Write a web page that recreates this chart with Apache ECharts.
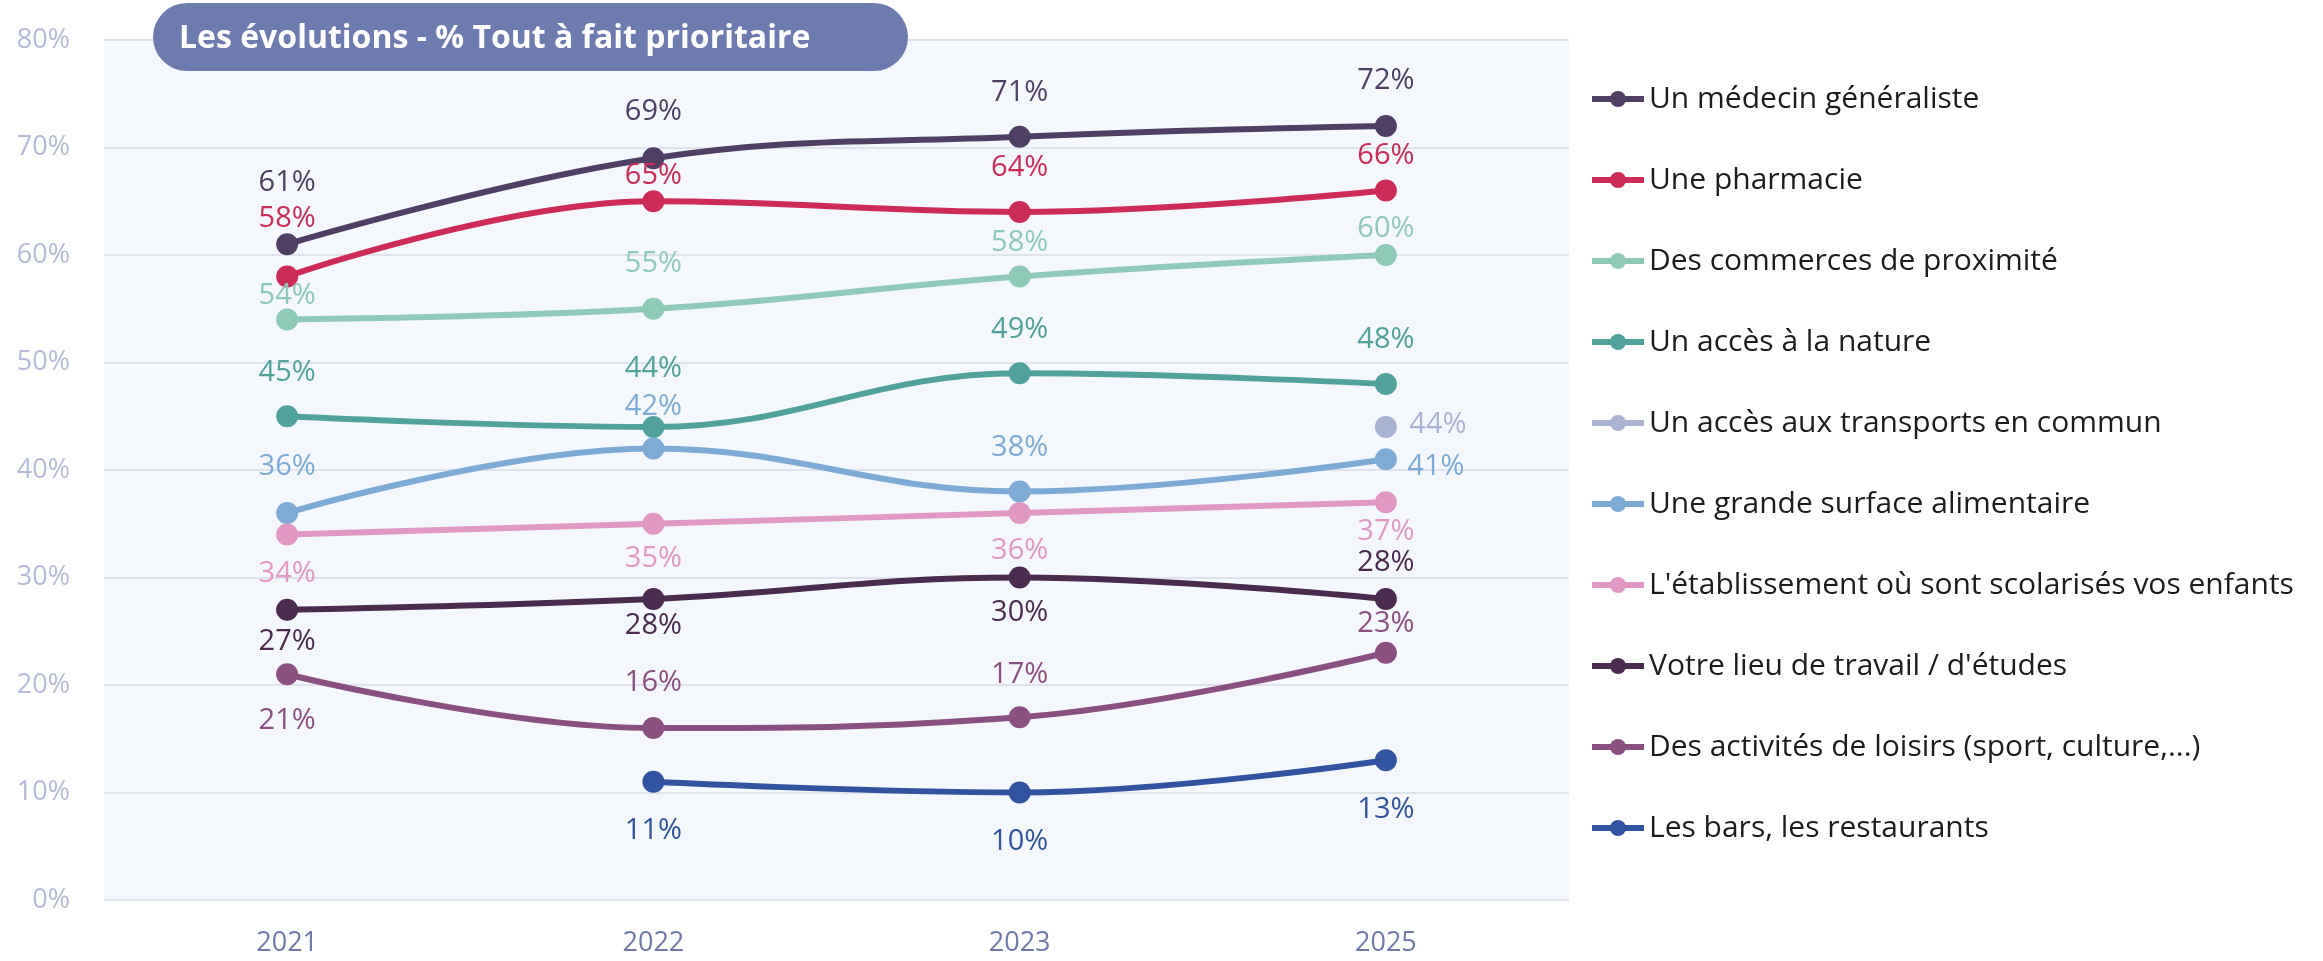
<!DOCTYPE html>
<html>
<head>
<meta charset="utf-8">
<script src="https://cdn.jsdelivr.net/npm/echarts@6/dist/echarts.min.js"></script>
<style>
  html, body { margin: 0; padding: 0; background: #fff; }
  #chart { width: 2323px; height: 961px; }
</style>
</head>
<body>
<div id="chart"></div>
<script>
// années
const years = ["2021", "2022", "2023", "2025"];
const yTicks = [0, 10, 20, 30, 40, 50, 60, 70, 80];

// séries (% tout à fait prioritaire)
const names = [
  "Un médecin généraliste",
  "Une pharmacie",
  "Des commerces de proximité",
  "Un accès à la nature",
  "Un accès aux transports en commun",
  "Une grande surface alimentaire",
  "L'établissement où sont scolarisés vos enfants",
  "Votre lieu de travail / d'études",
  "Des activités de loisirs (sport, culture,...)",
  "Les bars, les restaurants"
];
const medecin = [61, 69, 71, 72];
const pharmacie = [58, 65, 64, 66];
const commerces = [54, 55, 58, 60];
const nature = [45, 44, 49, 48];
const transports = [null, null, null, 44];
const grandeSurface = [36, 42, 38, 41];
const etablissement = [34, 35, 36, 37];
const travail = [27, 28, 30, 28];
const loisirs = [21, 16, 17, 23];
const bars = [null, 11, 10, 13];

const values = [medecin, pharmacie, commerces, nature, transports,
  grandeSurface, etablissement, travail, loisirs, bars];

const colors = ["#4e3f63", "#cc2c57", "#8fcab8", "#52a29c", "#aab3d2",
  "#7eabd6", "#e198c3", "#4a2c4f", "#8a5080", "#32539f"];

// placement des étiquettes (décalage en px par rapport au point)
const labelDy = [
  [-62, -47, -44, -45],
  [-58, -26, -44, -35],
  [-24, -45, -34, -26],
  [-44, -58, -44, -44],
  [0, 0, 0, -2],
  [-46, -42, -44, 7],
  [39, 35, 38, 29],
  [32, 27, 35, -36],
  [46, -45, -43, -29],
  [0, 49, 49, 49]
];
const labelDx = [
  [0, 0, 0, 0], [0, 0, 0, 0], [0, 0, 0, 0], [0, 0, 0, 0],
  [0, 0, 0, 52],
  [0, 0, 0, 50],
  [0, 0, 0, 0], [0, 0, 0, 0], [0, 0, 0, 0], [0, 0, 0, 0]
];

const font = "'Open Sans', 'Noto Sans', sans-serif";

let myChart = echarts.init(document.getElementById("chart"));

let series = values.map((arr, i) => ({
  name: names[i],
  type: "line",
  smooth: 0.4,
  symbol: "circle",
  symbolSize: 22,
  showAllSymbol: true,
  connectNulls: false,
  lineStyle: { width: 6, color: colors[i] },
  itemStyle: { color: colors[i] },
  data: arr.map((v, j) => ({
    value: v,
    label: {
      show: v !== null,
      position: "inside",
      offset: [labelDx[i][j], labelDy[i][j]],
      formatter: "{c}%",
      color: colors[i],
      fontSize: 29,
      fontFamily: font
    }
  })),
  emphasis: { disabled: true }
}));

let option = {
  backgroundColor: "#ffffff",
  animation: false,
  grid: {
    left: 104,
    top: 40,
    width: 1465,
    height: 860,
    show: true,
    backgroundColor: "#f4f7fb",
    borderWidth: 0
  },
  legend: {
    orient: "vertical",
    left: 1584,
    top: 79,
    itemWidth: 52,
    itemHeight: 20,
    itemGap: 51,
    data: names,
    lineStyle: { width: 6 },
    textStyle: {
      color: "#1c1c1c",
      fontSize: 30,
      lineHeight: 30,
      fontFamily: font
    }
  },
  xAxis: {
    type: "category",
    data: years,
    boundaryGap: true,
    axisLine: { show: false },
    axisTick: { show: false },
    axisLabel: {
      color: "#6f7aa8",
      fontSize: 27,
      margin: 30,
      fontFamily: font
    }
  },
  yAxis: {
    type: "value",
    min: yTicks[0],
    max: yTicks[yTicks.length - 1],
    interval: 10,
    axisLine: { show: false },
    axisTick: { show: false },
    splitLine: { lineStyle: { color: "#dfe3ec", width: 2 } },
    axisLabel: {
      color: "#b3bbd6",
      fontSize: 27,
      margin: 34,
      formatter: "{value}%",
      fontFamily: font
    }
  },
  graphic: [
    {
      type: "rect",
      shape: { x: 153, y: 3, width: 755, height: 68, r: 34 },
      style: { fill: "#6e7bae" },
      z: 100
    },
    {
      type: "text",
      left: 179,
      top: 23,
      style: {
        text: "Les évolutions - % Tout à fait prioritaire",
        fill: "#ffffff",
        fontSize: 32,
        fontWeight: "bold",
        fontFamily: font
      },
      z: 101
    }
  ],
  series: series
};

myChart.setOption(option);
</script>
</body>
</html>
